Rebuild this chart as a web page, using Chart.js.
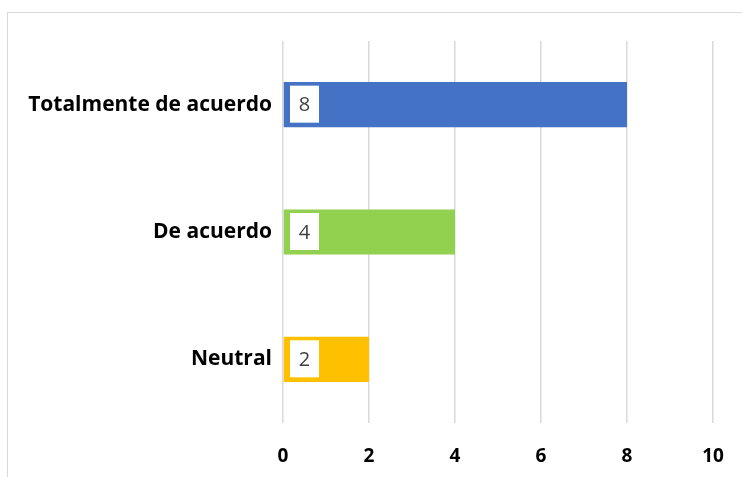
<!DOCTYPE html>
<html>
<head>
<meta charset="utf-8">
<script src="https://cdn.jsdelivr.net/npm/chart.js@4.4.1/dist/chart.umd.min.js"></script>
<style>
  html, body { margin: 0; padding: 0; background: #fff; overflow: hidden; }
  #wrap { position: relative; width: 742px; height: 477px; }
  #frame { position: absolute; left: 7px; top: 12px; width: 800px; height: 500px;
           border: 1.5px solid #d9d9d9; box-sizing: border-box; }
  canvas { position: absolute; left: 0; top: 0; }
</style>
</head>
<body>
<div id="wrap">
  <div id="frame"></div>
  <canvas id="chart" width="742" height="477"></canvas>
</div>
<script>
// Data
const categories = ['Totalmente de acuerdo', 'De acuerdo', 'Neutral'];
const values = [8, 4, 2];
const barColors = ['#4472C4', '#92D050', '#FFC000'];
const xTicks = [0, 2, 4, 6, 8, 10];

const FONT = "'Open Sans', 'Liberation Sans', sans-serif";

// white boxes with the value at the start of each bar
const valueBoxes = {
    id: 'valueBoxes',
    afterDatasetsDraw(chart) {
        const ctx = chart.ctx;
        const meta = chart.getDatasetMeta(0);
        ctx.save();
        meta.data.forEach((bar, i) => {
            const x0 = chart.chartArea.left + 7;
            ctx.fillStyle = '#ffffff';
            ctx.fillRect(x0, bar.y - 19, 29, 37);
            ctx.fillStyle = '#404040';
            ctx.font = '20px ' + FONT;
            ctx.textAlign = 'center';
            ctx.textBaseline = 'middle';
            ctx.fillText(String(values[i]), x0 + 14.5, bar.y + 1);
        });
        ctx.restore();
    }
};

const chart = new Chart(document.getElementById('chart'), {
    type: 'bar',
    data: {
        labels: categories,
        datasets: [{
            data: values,
            backgroundColor: barColors,
            borderWidth: 0,
            categoryPercentage: 1,
            barPercentage: 0.355
        }]
    },
    options: {
        indexAxis: 'y',
        responsive: false,
        animation: false,
        layout: { padding: { top: 41, right: 29, left: 0, bottom: 0 } },
        plugins: {
            legend: { display: false },
            tooltip: { enabled: false }
        },
        scales: {
            x: {
                min: 0,
                max: 10,
                afterBuildTicks(axis) {
                    axis.ticks = xTicks.map(v => ({ value: v }));
                },
                afterFit(axis) {
                    axis.height = 54;
                    axis.paddingLeft = 0;
                    axis.paddingRight = 0;
                },
                grid: { color: '#d9d9d9', lineWidth: 1.5, drawTicks: false },
                border: { display: false },
                ticks: {
                    padding: 22,
                    color: '#000',
                    font: { family: FONT, size: 19, weight: 'bold' }
                }
            },
            y: {
                afterFit(axis) { axis.width = 283; },
                grid: { display: false, drawTicks: false },
                border: { display: false },
                ticks: {
                    padding: 11,
                    color: '#000',
                    font: { family: FONT, size: 21, weight: 'bold' }
                }
            }
        }
    },
    plugins: [valueBoxes]
});
</script>
</body>
</html>
